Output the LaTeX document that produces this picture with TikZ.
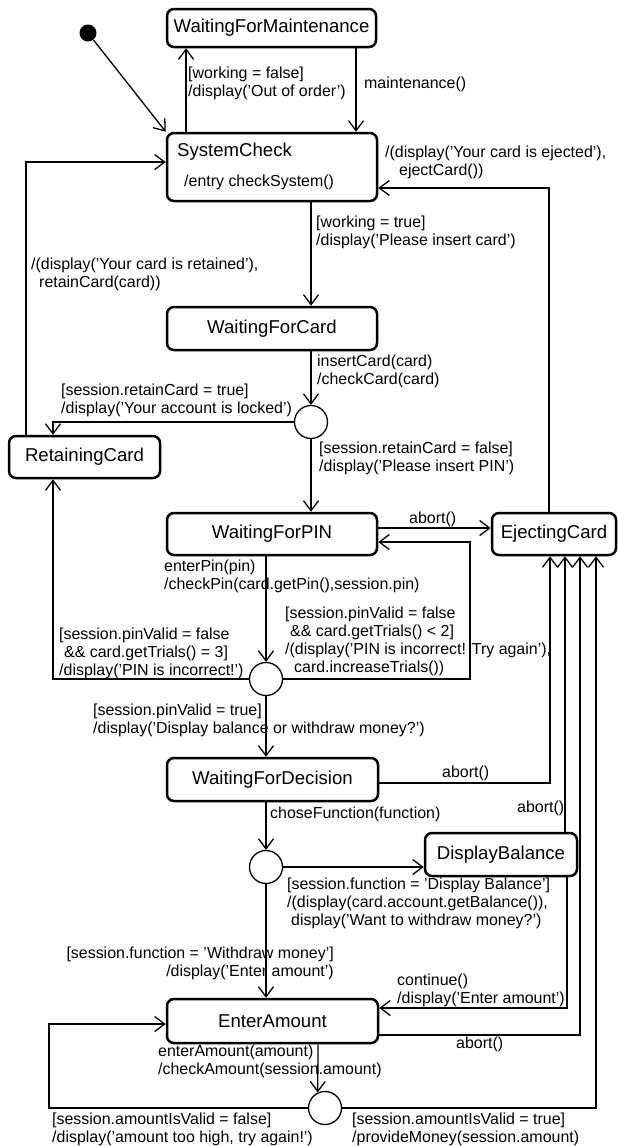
\documentclass[tikz,border=0pt]{standalone}
\usepackage{fontspec}
\setmainfont{Liberation Sans}
\usetikzlibrary{arrows.meta}
\newcommand{\lblf}{\fontsize{15.95}{17.8}\selectfont}
\newcommand{\stf}{\fontsize{18.6}{21}\selectfont}
\begin{document}
\begin{tikzpicture}[x=1pt,y=-1pt,
  st/.style={draw, line width=2.5pt, rounded corners=7pt, inner sep=0pt, font=\stf},
  ch/.style={draw, circle, line width=1.3pt, fill=white, minimum size=33pt, inner sep=0pt},
  arr/.style={line width=1.3pt, -{Straight Barb[length=10pt,width=15pt]}},
  lbl/.style={font=\lblf, align=left, inner sep=0pt, anchor=west},
]
\useasboundingbox (0,0) rectangle (618,1146);

% states
\node[circle, fill=black, minimum size=17pt, inner sep=0pt] (init) at (88,33) {};
\node[st, minimum width=209pt, minimum height=38pt] (wfm) at (271.5,28) {WaitingForMaintenance};
\node[st, minimum width=210pt, minimum height=68pt] (sc) at (272,167) {};
\node[font=\stf, inner sep=0pt, anchor=west] (sct) at (177,152) {SystemCheck};
\node[lbl] (sce) at (184,182) {/entry checkSystem()};
\node[st, minimum width=210pt, minimum height=43pt] (wfc) at (272,328.5) {WaitingForCard};
\node[ch] (c1) at (311,422) {};
\node[st, minimum width=151pt, minimum height=42pt] (rc) at (84.5,457) {RetainingCard};
\node[st, minimum width=210pt, minimum height=42pt] (wfp) at (272,534) {WaitingForPIN};
\node[st, minimum width=124pt, minimum height=42pt] (ec) at (554,534) {EjectingCard};
\node[ch] (c2) at (266,679) {};
\node[st, minimum width=211pt, minimum height=43pt] (wfd) at (272.5,779.5) {WaitingForDecision};
\node[ch] (c3) at (266,867) {};
\node[st, minimum width=152pt, minimum height=43pt] (db) at (501,854.5) {DisplayBalance};
\node[st, minimum width=211pt, minimum height=44pt] (ea) at (272.5,1021) {EnterAmount};
\node[ch] (c4) at (325,1108) {};

% helper coordinates
\coordinate (xa) at (186,0);
\coordinate (xb) at (356,0);
\coordinate (xc) at (311,0);
\coordinate (xd) at (266,0);
\coordinate (xe) at (318,0);
\coordinate (pej) at (549,188);
\coordinate (pret) at (26,162);
\coordinate (x53) at (53,0);
\coordinate (p470) at (470,542);
\coordinate (yab) at (0,528);
\coordinate (pwfd) at (550,783);
\coordinate (x565) at (565,0);
\coordinate (pdb) at (567,1008);
\coordinate (pea) at (580,1035);
\coordinate (p49) at (49,1024);
\coordinate (x596) at (596,0);

% connectors
\draw[arr] (init) -- (sc.north west);
\draw[arr] (sc.north -| xa) -- (wfm.south -| xa);
\draw[arr] (wfm.south -| xb) -- (sc.north -| xb);
\draw[arr] (ec.north -| pej) |- (sc.east |- pej);
\draw[arr] (sc.south -| xc) -- (wfc.north -| xc);
\draw[arr] (wfc.south -| xc) -- (c1.north);
\draw[arr] (c1.west) -| (rc.north -| x53);
\draw[arr] (c1.south) -- (wfp.north -| xc);
\draw[arr] (rc.north -| pret) |- (sc.west |- pret);
\draw[arr] (wfp.east |- yab) -- (ec.west |- yab);
\draw[arr] (wfp.south -| xd) -- (c2.north);
\draw[arr] (c2.west) -| (rc.south -| x53);
\draw[arr] (c2.east) -| (p470) -- (wfp.east |- p470);
\draw[arr] (c2.south) -- (wfd.north -| xd);
\draw[arr] (wfd.east |- pwfd) -| (ec.south -| pwfd);
\draw[arr] (wfd.south -| xd) -- (c3.north);
\draw[arr] (c3.east) -- (db.west |- c3);
\draw[arr] (db.north -| x565) -- (ec.south -| x565);
\draw[arr] (c3.south) -- (ea.north -| xd);
\draw[arr] (db.south -| pdb) |- (ea.east |- pdb);
\draw[arr] (ea.east |- pea) -| (ec.south -| pea);
\draw[arr] (ea.south -| xe) -- (c4.115);
\draw[arr] (c4.west) -| (p49) -- (ea.west |- p49);
\draw[arr] (c4.east) -| (ec.south -| x596);

% labels
\node[lbl] (l1) at (188,83) {[working = false]\\/display('Out of order')};
\node[lbl] (l2) at (364,84) {maintenance()};
\node[lbl] (l3) at (385,162) {/(display('Your card is ejected'),\\\hspace*{14pt}ejectCard())};
\node[lbl] (l4) at (316,232.5) {[working = true]\\/display('Please insert card')};
\node[lbl] (l5) at (31,274.5) {/(display('Your card is retained'),\\\hspace*{8pt}retainCard(card))};
\node[lbl] (l6) at (317,371.5) {insertCard(card)\\/checkCard(card)};
\node[lbl] (l7) at (61,400.5) {[session.retainCard = true]\\/display('Your account is locked')};
\node[lbl] (l8) at (319,458) {[session.retainCard = false]\\/display('Please insert PIN')};
\node[lbl] (l9) at (409,519) {abort()};
\node[lbl] (l10) at (164,576) {enterPin(pin)\\/checkPin(card.getPin(),session.pin)};
\node[lbl] (l11) at (285,641.5) {[session.pinValid = false\\\hspace*{5pt}\&\& card.getTrials() < 2]\\/(display('PIN is incorrect! Try again'),\\\hspace*{9pt}card.increaseTrials())};
\node[lbl] (l12) at (59,653.5) {[session.pinValid = false\\\hspace*{5pt}\&\& card.getTrials() = 3]\\/display('PIN is incorrect!')};
\node[lbl] (l13) at (93,720) {[session.pinValid = true]\\/display('Display balance or withdraw money?')};
\node[lbl] (l14) at (442,773) {abort()};
\node[lbl] (l15) at (517,808) {abort()};
\node[lbl] (l16) at (270,814) {choseFunction(function)};
\node[lbl] (l17) at (287,903.5) {[session.function = 'Display Balance']\\/(display(card.account.getBalance()),\\\hspace*{4pt}display('Want to withdraw money?')};
\node[lbl, align=right, anchor=east] (l18) at (334,963.5) {[session.function = 'Withdraw money']\\/display('Enter amount')};
\node[lbl] (l19) at (397,990.5) {continue()\\/display('Enter amount')};
\node[lbl] (l20) at (456,1044) {abort()};
\node[lbl] (l21) at (158,1061.5) {enterAmount(amount)\\/checkAmount(session.amount)};
\node[lbl] (l22) at (52,1129) {[session.amountIsValid = false]\\/display('amount too high, try again!')};
\node[lbl] (l23) at (352,1129) {[session.amountIsValid = true]\\/provideMoney(session.amount)};
\end{tikzpicture}
\end{document}
